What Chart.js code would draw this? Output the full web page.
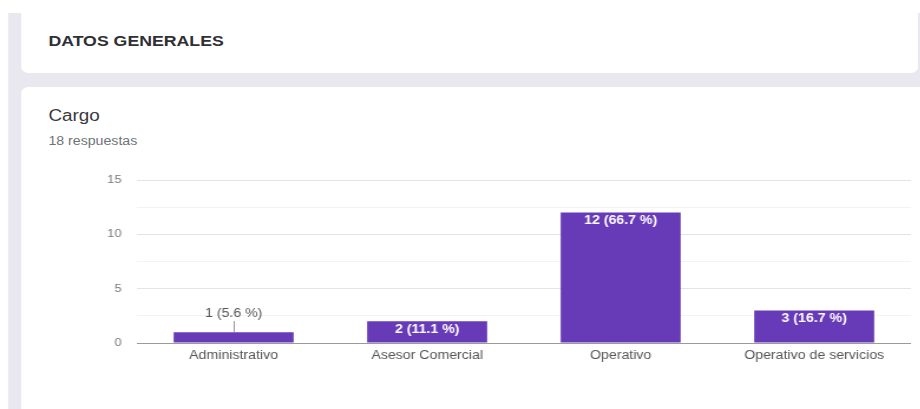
<!DOCTYPE html>
<html lang="es">
<head>
<meta charset="utf-8">
<title>Cargo</title>
<script src="https://cdn.jsdelivr.net/npm/chart.js@4/dist/chart.umd.min.js"></script>
<style>
  html, body { margin: 0; padding: 0; background: #ffffff; overflow: hidden; }
  body { width: 920px; height: 409px; position: relative; font-family: "Liberation Sans", Arial, sans-serif; }
  /* the whole form view is drawn slightly widened */
  #stage { position: absolute; left: 0; top: 0; width: 780px; height: 409px; transform: scaleX(1.18); transform-origin: 0 0; }
  #backdrop { position: absolute; left: 7px; top: 13px; width: 773px; height: 396px; background: #e9e7ef; }
  .card { position: absolute; background: #ffffff; }
  #head { left: 18px; top: 13px; width: 760px; height: 60px; border-radius: 0 0 6px 6px; }
  #body { left: 18px; top: 87px; width: 762px; height: 322px; border-radius: 6px 0 0 0; }
  #section { position: absolute; left: 41px; top: 32px; font-size: 15px; font-weight: 700; color: #303034; white-space: nowrap; }
  #question { position: absolute; left: 41px; top: 107px; font-size: 16px; color: #3a3a3e; white-space: nowrap; }
  #count { position: absolute; left: 41px; top: 134px; font-size: 12px; color: #6f7378; white-space: nowrap; }
  #chart { position: absolute; left: 0; top: 0; }
</style>
</head>
<body>
<div id="stage">
  <div id="backdrop"></div>
  <div class="card" id="head"></div>
  <div class="card" id="body"></div>
  <div id="section">DATOS GENERALES</div>
  <div id="question">Cargo</div>
  <div id="count"></div>
  <canvas id="chart" width="780" height="409"></canvas>
</div>
<script>
// Answers to the "Cargo" question
const categories = ['Administrativo', 'Asesor Comercial', 'Operativo', 'Operativo de servicios'];
const responses = [1, 2, 12, 3];
const yTickLabels = [0, 5, 10, 15];

const total = responses.reduce((a, b) => a + b, 0);
document.getElementById('count').textContent = total + ' respuestas';

const barColor = '#673ab7';
const fontFamily = '"Liberation Sans", Arial, sans-serif';

// Count and share written on each bar: inside when the bar is tall enough, above it otherwise
const valueLabels = {
  id: 'valueLabels',
  afterDatasetsDraw(chart) {
    const ctx = chart.ctx;
    const meta = chart.getDatasetMeta(0);
    ctx.save();
    ctx.textAlign = 'center';
    ctx.textBaseline = 'middle';
    meta.data.forEach((bar, i) => {
      const v = responses[i];
      const text = v + ' (' + (v / total * 100).toFixed(1) + ' %)';
      const h = bar.base - bar.y;
      if (h >= 16) {
        ctx.font = 'bold 12px ' + fontFamily;
        ctx.fillStyle = '#ffffff';
        ctx.fillText(text, bar.x, bar.y + 8);
      } else {
        ctx.strokeStyle = '#9a9a9a';
        ctx.lineWidth = 1;
        ctx.beginPath();
        ctx.moveTo(Math.round(bar.x) + 0.5, bar.y - 11);
        ctx.lineTo(Math.round(bar.x) + 0.5, bar.y);
        ctx.stroke();
        ctx.font = '12px ' + fontFamily;
        ctx.fillStyle = '#555555';
        ctx.fillText(text, bar.x, bar.y - 18);
      }
    });
    ctx.restore();
  }
};

new Chart(document.getElementById('chart'), {
  type: 'bar',
  data: {
    labels: categories,
    datasets: [{
      data: responses,
      backgroundColor: barColor,
      borderWidth: 0,
      categoryPercentage: 1,
      barPercentage: 0.62
    }]
  },
  options: {
    responsive: false,
    animation: false,
    events: [],
    layout: { padding: { left: 40, right: 8, top: 180, bottom: 36 } },
    plugins: { legend: { display: false }, tooltip: { enabled: false } },
    scales: {
      x: {
        grid: { display: false, drawTicks: false },
        border: { display: false },
        afterFit(scale) { scale.height = 30; },
        ticks: {
          color: '#555555',
          font: { family: fontFamily, size: 12 },
          padding: 5,
          maxRotation: 0,
          autoSkip: false
        }
      },
      y: {
        min: 0,
        max: 15,
        afterFit(scale) { scale.width = 76; },
        border: { display: false },
        grid: {
          drawTicks: false,
          lineWidth: 1,
          color(c) {
            const v = c.tick.value;
            if (v === 0) return '#9b9b9b';
            return yTickLabels.includes(v) ? '#e4e4e4' : '#f3f3f3';
          }
        },
        ticks: {
          stepSize: 2.5,
          padding: 13,
          color: '#7a7a7a',
          font: { family: fontFamily, size: 11 },
          callback(v) { return yTickLabels.includes(v) ? String(v) : ''; }
        }
      }
    }
  },
  plugins: [valueLabels]
});
</script>
</body>
</html>
